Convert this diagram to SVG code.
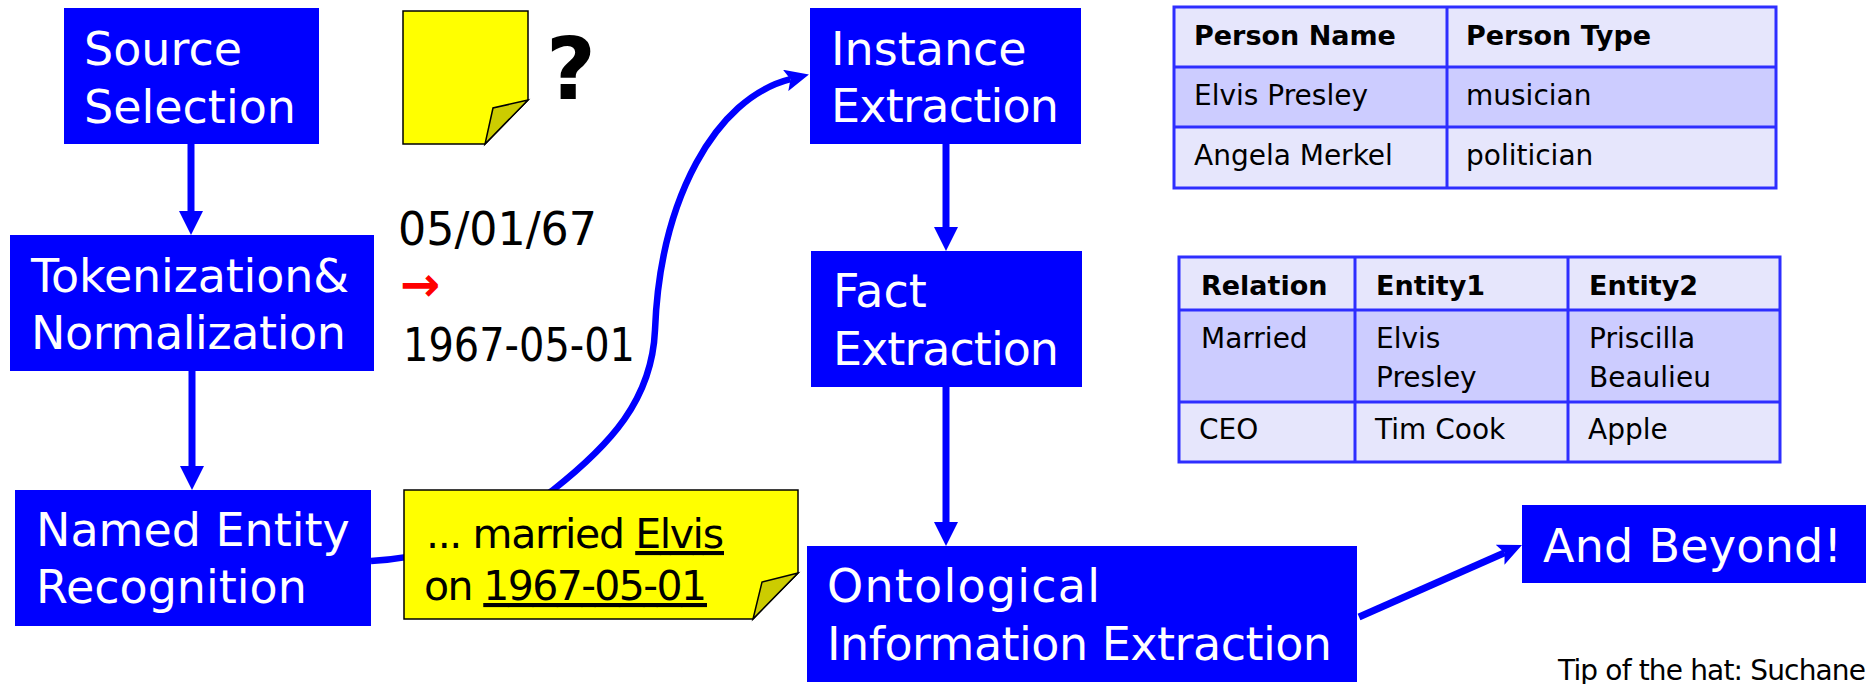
<svg xmlns="http://www.w3.org/2000/svg" width="1866" height="684" viewBox="0 0 1866 684">
<style>
text{font-family:"DejaVu Sans","Liberation Sans",sans-serif}
.box{fill:#0000FF}
.bt{fill:#FFFFFF;font-size:46px}
.blk{fill:#000000;font-size:46px}
.note{fill:#FFFF00;stroke:#000000;stroke-width:1.5}
.fold{fill:#CCCC00;stroke:#000000;stroke-width:1.5}
.nt{fill:#000000;font-size:41px}
.u{text-decoration:underline}
.conn{fill:none;stroke:#0000FF}
.hd{fill:#E6E6FC}
.dk{fill:#CCCCFF}
.grid{fill:none;stroke:#2E2EFF;stroke-width:3}
.th{font-weight:bold;font-size:27px;fill:#000000}
.td{font-size:28px;fill:#000000}
</style>
<defs>
<marker id="tri" viewBox="0 0 24 24" refX="0" refY="12" markerWidth="24" markerHeight="24" markerUnits="userSpaceOnUse" orient="auto">
<path d="M0,0 L24,12 L0,24 Z" fill="#0000FF"/>
</marker>
<marker id="notch" viewBox="0 0 24 22" refX="5" refY="11" markerWidth="24" markerHeight="22" markerUnits="userSpaceOnUse" orient="auto">
<path d="M0,0 L24,11 L0,22 L5,11 Z" fill="#0000FF"/>
</marker>
</defs>
<rect width="1866" height="684" fill="#FFFFFF"/>

<g id="connectors">
<path class="conn" stroke-width="7" d="M191,144 L191,211" marker-end="url(#tri)"/>
<path class="conn" stroke-width="7" d="M192,371 L192,466" marker-end="url(#tri)"/>
<path class="conn" stroke-width="7" d="M946,144 L946,227" marker-end="url(#tri)"/>
<path class="conn" stroke-width="7" d="M946,387 L946,522" marker-end="url(#tri)"/>
<path class="conn" stroke-width="6.5" d="M371,561 C440,558 500,530 553,490 C610,445 652,400 655,330 C660,200 715,98 790.5,79.2" marker-end="url(#notch)"/>
<path class="conn" stroke-width="7" d="M1359,617 L1504.6,552.7" marker-end="url(#notch)"/>
</g>

<g id="source-selection">
<rect class="box" x="64" y="8" width="255" height="136"/>
<text class="bt" x="84" y="65">Source</text>
<text class="bt" x="84" y="123">Selection</text>
</g>

<g id="document-icon">
<path class="note" d="M403,11 L528,11 L528,100 L485,144 L403,144 Z"/>
<path class="fold" d="M528,100 L493,108 L485,144 Z"/>
<text x="546" y="99" font-size="86" font-weight="bold" fill="#000000" font-family="Liberation Sans, sans-serif">?</text>
</g>

<g id="tokenization">
<rect class="box" x="10" y="235" width="364" height="136"/>
<text class="bt" x="31" y="292" textLength="318">Tokenization&amp;</text>
<text class="bt" x="31" y="349" textLength="315">Normalization</text>
</g>

<g id="date-normalization">
<text class="blk"><tspan x="398" y="245" textLength="199" lengthAdjust="spacingAndGlyphs">05/01/67</tspan><tspan x="400" y="301" fill="#FF0000" font-weight="bold" font-size="48">→</tspan><tspan x="403" y="361" textLength="232" lengthAdjust="spacingAndGlyphs">1967-05-01</tspan></text>
</g>

<g id="named-entity-recognition">
<rect class="box" x="15" y="490" width="356" height="136"/>
<text class="bt" x="36" y="546">Named Entity</text>
<text class="bt" x="36" y="603">Recognition</text>
</g>

<g id="example-note">
<path class="note" d="M404,490 L798,490 L798,573 L753,619 L404,619 Z"/>
<path class="fold" d="M798,573 L762,582 L753,619 Z"/>
<text class="nt" x="426" y="548" textLength="298">... married <tspan class="u">Elvis</tspan></text>
<text class="nt" x="424" y="600" textLength="283">on <tspan class="u">1967-05-01</tspan></text>
</g>

<g id="instance-extraction">
<rect class="box" x="810" y="8" width="271" height="136"/>
<text class="bt" x="831" y="65">Instance</text>
<text class="bt" x="831" y="122" textLength="228">Extraction</text>
</g>

<g id="fact-extraction">
<rect class="box" x="811" y="251" width="271" height="136"/>
<text class="bt" x="833" y="307">Fact</text>
<text class="bt" x="833" y="365" textLength="226">Extraction</text>
</g>

<g id="ontological-extraction">
<rect class="box" x="807" y="546" width="550" height="136"/>
<text class="bt" x="827" y="602" textLength="273">Ontological</text>
<text class="bt" x="827" y="660" textLength="505">Information Extraction</text>
</g>

<g id="and-beyond">
<rect class="box" x="1522" y="505" width="344" height="78"/>
<text class="bt" x="1543" y="562" textLength="299">And Beyond!</text>
</g>

<g id="person-table">
<rect class="hd" x="1174" y="7" width="602" height="60"/>
<rect class="dk" x="1174" y="67" width="602" height="60"/>
<rect class="hd" x="1174" y="127" width="602" height="61"/>
<path class="grid" d="M1174,7 H1776 V188 H1174 Z M1174,67 H1776 M1174,127 H1776 M1447,7 V188"/>
<text class="th" x="1194" y="45">Person Name</text>
<text class="th" x="1466" y="45">Person Type</text>
<text class="td" x="1194" y="105">Elvis Presley</text>
<text class="td" x="1466" y="105">musician</text>
<text class="td" x="1194" y="165">Angela Merkel</text>
<text class="td" x="1466" y="165">politician</text>
</g>

<g id="relation-table">
<rect class="hd" x="1179" y="257" width="601" height="53"/>
<rect class="dk" x="1179" y="310" width="601" height="92"/>
<rect class="hd" x="1179" y="402" width="601" height="60"/>
<path class="grid" d="M1179,257 H1780 V462 H1179 Z M1179,310 H1780 M1179,402 H1780 M1355,257 V462 M1568,257 V462"/>
<text class="th" x="1201" y="295">Relation</text>
<text class="th" x="1376" y="295">Entity1</text>
<text class="th" x="1589" y="295">Entity2</text>
<text class="td" x="1201" y="348">Married</text>
<text class="td" x="1376" y="348">Elvis</text>
<text class="td" x="1376" y="387">Presley</text>
<text class="td" x="1589" y="348">Priscilla</text>
<text class="td" x="1589" y="387">Beaulieu</text>
<text class="td" x="1199" y="439">CEO</text>
<text class="td" x="1375" y="439">Tim Cook</text>
<text class="td" x="1588" y="439">Apple</text>
</g>

<g id="credit">
<text x="1558" y="680" font-size="28" fill="#000000" textLength="308">Tip of the hat: Suchane</text>
</g>
</svg>
